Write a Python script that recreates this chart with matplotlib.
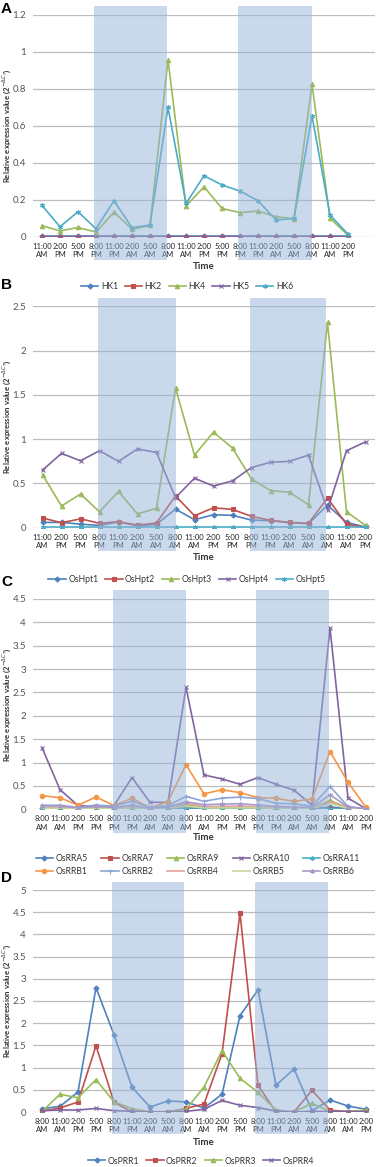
import matplotlib
matplotlib.use('Agg')
import matplotlib.pyplot as plt
import matplotlib.transforms as mtransforms
from matplotlib.patches import Rectangle

plt.rcParams['font.family'] = ['Lato', 'DejaVu Sans']

# ---- data ----
times_ab = ['11:00\nAM', '2:00\nPM', '5:00\nPM', '8:00\nPM', '11:00\nPM', '2:00\nAM', '5:00\nAM', '8:00\nAM',
            '11:00\nAM', '2:00\nPM', '5:00\nPM', '8:00\nPM', '11:00\nPM', '2:00\nAM', '5:00\nAM', '8:00\nAM',
            '11:00\nAM', '2:00\nPM']
times_cd = ['8:00\nAM'] + times_ab

hk_names = ['HK1', 'HK2', 'HK4', 'HK5', 'HK6']
hk1 = [0.002] * 18
hk2 = [0.001] * 18
hk4 = [0.06, 0.031, 0.05, 0.025, 0.133, 0.04, 0.061, 0.957, 0.166, 0.27, 0.153, 0.13, 0.139, 0.108, 0.097,
       0.825, 0.10, 0.007]
hk5 = [0.0] * 18
hk6 = [0.169, 0.054, 0.135, 0.043, 0.195, 0.049, 0.063, 0.70, 0.18, 0.33, 0.28, 0.247, 0.195, 0.09, 0.099,
       0.655, 0.117, 0.014]

hpt_names = ['OsHpt1', 'OsHpt2', 'OsHpt3', 'OsHpt4', 'OsHpt5']
hpt1 = [0.06, 0.06, 0.04, 0.026, 0.064, 0.022, 0.038, 0.21, 0.09, 0.147, 0.14, 0.086, 0.079, 0.056, 0.045,
        0.255, 0.06, 0.008]
hpt2 = [0.11, 0.056, 0.10, 0.05, 0.068, 0.03, 0.053, 0.36, 0.135, 0.225, 0.207, 0.128, 0.083, 0.06, 0.05,
        0.335, 0.038, 0.004]
hpt3 = [0.6, 0.245, 0.38, 0.18, 0.41, 0.155, 0.22, 1.58, 0.82, 1.08, 0.9, 0.55, 0.42, 0.4, 0.26, 2.32, 0.18,
        0.026]
hpt4 = [0.65, 0.84, 0.756, 0.87, 0.75, 0.89, 0.85, 0.34, 0.56, 0.47, 0.53, 0.68, 0.74, 0.75, 0.82, 0.2, 0.87,
        0.97]
hpt5 = [0.005] * 18

rr_names = ['OsRRA5', 'OsRRA7', 'OsRRA9', 'OsRRA10', 'OsRRA11', 'OsRRB1', 'OsRRB2', 'OsRRB4', 'OsRRB5', 'OsRRB6']
rra5 = [0.02, 0.02, 0.01, 0.02, 0.01, 0.02, 0.01, 0.01, 0.03, 0.02, 0.02, 0.02, 0.02, 0.01, 0.01, 0.01, 0.05,
        0.01, 0.0]
rra7 = [0.002] * 19
rra9 = [0.03, 0.03, 0.02, 0.03, 0.02, 0.04, 0.01, 0.02, 0.10, 0.04, 0.04, 0.04, 0.03, 0.02, 0.02, 0.02, 0.19,
        0.03, 0.0]
rra10 = [1.32, 0.42, 0.08, 0.06, 0.08, 0.68, 0.15, 0.15, 2.61, 0.735, 0.65, 0.535, 0.68, 0.535, 0.41, 0.09,
         3.88, 0.24, 0.01]
rra11 = [0.001] * 19
rrb1 = [0.29, 0.25, 0.086, 0.264, 0.08, 0.236, 0.03, 0.165, 0.957, 0.33, 0.42, 0.357, 0.25, 0.236, 0.17,
        0.22, 1.236, 0.58, 0.04]
rrb2 = [0.087, 0.087, 0.04, 0.09, 0.07, 0.17, 0.04, 0.08, 0.275, 0.17, 0.24, 0.26, 0.23, 0.13, 0.115, 0.07,
        0.49, 0.06, 0.01]
rrb4 = [0.03, 0.03, 0.02, 0.03, 0.02, 0.05, 0.01, 0.03, 0.13, 0.06, 0.06, 0.07, 0.05, 0.04, 0.03, 0.03, 0.16,
        0.03, 0.0]
rrb5 = [0.02, 0.02, 0.01, 0.02, 0.01, 0.03, 0.01, 0.02, 0.07, 0.03, 0.03, 0.03, 0.03, 0.02, 0.02, 0.02, 0.12,
        0.02, 0.0]
rrb6 = [0.07, 0.07, 0.03, 0.06, 0.04, 0.09, 0.02, 0.05, 0.16, 0.10, 0.11, 0.12, 0.09, 0.06, 0.05, 0.04, 0.31,
        0.05, 0.01]

prr_names = ['OsPRR1', 'OsPRR2', 'OsPRR3', 'OsPRR4']
prr1 = [0.075, 0.128, 0.45, 2.8, 1.74, 0.56, 0.11, 0.25, 0.225, 0.09, 0.4, 2.17, 2.75, 0.6, 0.97, 0.03, 0.27,
        0.135, 0.06]
prr2 = [0.02, 0.09, 0.225, 1.49, 0.22, 0.0, 0.0, 0.0, 0.08, 0.18, 1.31, 4.48, 0.6, 0.0, 0.0, 0.49, 0.04, 0.01,
        0.015]
prr3 = [0.01, 0.4, 0.32, 0.73, 0.23, 0.075, 0.0, 0.0, 0.06, 0.56, 1.38, 0.76, 0.44, 0.045, 0.0, 0.195, 0.01,
        0.01, 0.04]
prr4 = [0.03, 0.045, 0.045, 0.08, 0.03, 0.015, 0.0, 0.0, 0.015, 0.06, 0.26, 0.15, 0.1, 0.02, 0.0, 0.015, 0.01,
        0.01, 0.01]

# ---- styles ----
blue, red, green, purple, cyan, orange = '#4F81BD', '#C0504D', '#9BBB59', '#8064A2', '#4BACC6', '#F79646'
star = (6, 2, 0)
base_styles = [(blue, 'D', 2.6), (red, 's', 3.0), (green, '^', 3.2), (purple, 'x', 3.2), (cyan, star, 3.6)]
rr_styles = base_styles + [(orange, 'o', 3.2), ('#8CA5D7', '+', 3.6), ('#E6A0A0', None, 0),
                           ('#C4D79B', None, 0), ('#A898C8', star, 3.6)]

W, H = 376, 1167
fig = plt.figure(figsize=(W / 100, H / 100), dpi=100)
ylab = r'Relative expression value (2$^{-\Delta C_T}$)'


def panel(top, bottom, ymax, ystep, labels, series, names, styles, nslots, shades, sh_y):
    ax = fig.add_axes([33 / W, 1 - bottom / H, 342 / W, (bottom - top) / H])
    x = list(range(len(labels)))
    lines = []
    for vals, nm, (c, m, ms) in zip(series, names, styles):
        ln, = ax.plot(x, vals, color=c, lw=1.2, marker=m, ms=ms, mew=0.8, label=nm, zorder=3)
        lines.append(ln)
    ax.set_xlim(-0.5, nslots - 0.5)
    ax.set_ylim(0, ymax)
    ticks = [i * ystep for i in range(int(round(ymax / ystep)) + 1)]
    ax.set_yticks(ticks)
    ax.set_yticklabels(['%g' % t for t in ticks])
    ax.set_xticks(x)
    ax.set_xticklabels(labels)
    ax.grid(axis='y', color='#BDBDBD', lw=0.9)
    ax.set_axisbelow(True)
    for s in ax.spines.values():
        s.set_visible(False)
    ax.tick_params(axis='x', length=0, pad=4.2, labelsize=5.5, labelcolor='#262626')
    ax.tick_params(axis='y', length=0, pad=5, labelsize=7, labelcolor='#555555')
    for t in ax.get_xticklabels():
        t.set_linespacing(1.25)
    ax.set_xlabel('Time', fontsize=7, fontweight='bold', color='#333333', va='top')
    ax.xaxis.set_label_coords(0.5, -0.115)
    ax.set_ylabel(ylab, fontsize=5.6, fontweight='bold', color='#333333')
    ax.yaxis.set_label_coords(-0.058, 0.5)
    tr = mtransforms.blended_transform_factory(ax.transData, ax.transAxes)
    for x0, x1 in shades:
        ax.add_patch(Rectangle((x0, sh_y[0]), x1 - x0, sh_y[1] - sh_y[0], transform=tr, clip_on=False,
                               facecolor='#95B3D7', alpha=0.5, lw=0, zorder=5))
    return ax, lines


leg_kw = dict(frameon=False, fontsize=6.2, handlelength=2.0, handletextpad=0.3, labelcolor='#333333')

axA, lnA = panel(15, 236.7, 1.2, 0.2, times_ab, [hk1, hk2, hk4, hk5, hk6], hk_names, base_styles, 19,
                 [(2.9, 6.95), (10.9, 15.0)], (-0.105, 1.04))
fig.legend(lnA, hk_names, loc='center', bbox_to_anchor=(187 / W, 1 - 287 / H), ncol=5, columnspacing=0.8,
           **leg_kw)

axB, lnB = panel(306.5, 527.7, 2.5, 0.5, times_ab, [hpt1, hpt2, hpt3, hpt4, hpt5], hpt_names, base_styles, 18,
                 [(2.92, 7.01), (10.9, 14.9)], (-0.105, 1.037))
fig.legend(lnB, hpt_names, loc='center', bbox_to_anchor=(187 / W, 1 - 580 / H), ncol=5, columnspacing=0.8,
           **leg_kw)

axC, lnC = panel(599, 809.3, 4.5, 0.5, times_cd,
                 [rra5, rra7, rra9, rra10, rra11, rrb1, rrb2, rrb4, rrb5, rrb6], rr_names, rr_styles, 19,
                 [(3.94, 7.98), (11.9, 15.96)], (-0.111, 1.043))
# legend fills column by column, so interleave the two rows
order = [0, 5, 1, 6, 2, 7, 3, 8, 4, 9]
fig.legend([lnC[i] for i in order], [rr_names[i] for i in order], loc='center left',
           bbox_to_anchor=(28 / W, 1 - 865 / H, 340 / W, 0), ncol=5, mode='expand', labelspacing=0.55,
           **leg_kw)

axD, lnD = panel(890, 1112, 5, 0.5, times_cd, [prr1, prr2, prr3, prr4], prr_names, base_styles[:4], 19,
                 [(3.87, 7.9), (11.83, 15.87)], (-0.1, 1.037))
fig.legend(lnD, prr_names, loc='center', bbox_to_anchor=(201 / W, 1 - 1161 / H), ncol=4, columnspacing=0.8,
           **leg_kw)

for lab, yy in [('A', 9), ('B', 285), ('C', 582), ('D', 878)]:
    fig.text(1 / W, 1 - yy / H, lab, fontsize=11, fontweight='bold', family=['Liberation Sans', 'DejaVu Sans'],
             va='center', ha='left')

fig.savefig('out.png', dpi=100)
